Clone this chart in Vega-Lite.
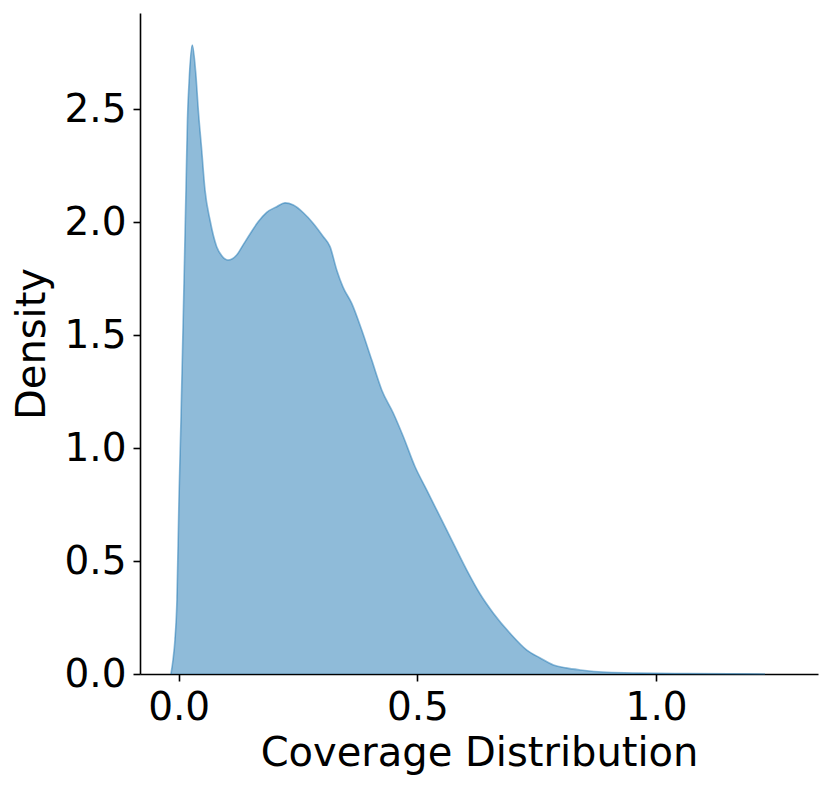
{
  "$schema": "https://vega.github.io/schema/vega-lite/v6.json",
  "width": 678,
  "height": 661,
  "autosize": {"type": "none"},
  "padding": {"left": 140, "top": 13, "right": 13, "bottom": 115},
  "background": "white",
  "config": {
    "view": {"stroke": null},
    "font": "DejaVu Sans",
    "axis": {
      "grid": false,
      "domainColor": "black",
      "domainWidth": 1.6,
      "tickColor": "black",
      "tickWidth": 1.6,
      "tickSize": 7,
      "labelFont": "DejaVu Sans",
      "labelFontSize": 39,
      "labelColor": "black",
      "labelPadding": 7,
      "titleFont": "DejaVu Sans",
      "titleFontSize": 40,
      "titleFontWeight": "normal",
      "titleColor": "black"
    }
  },
  "data": {
    "values": [
      {"x": -0.0161, "y": 0.0},
      {"x": -0.0119, "y": 0.062},
      {"x": -0.0078, "y": 0.15},
      {"x": -0.0036, "y": 0.327},
      {"x": 0.0006, "y": 0.77},
      {"x": 0.0048, "y": 1.124},
      {"x": 0.009, "y": 1.522},
      {"x": 0.0122, "y": 1.832},
      {"x": 0.0153, "y": 2.142},
      {"x": 0.0184, "y": 2.451},
      {"x": 0.0222, "y": 2.637},
      {"x": 0.0285, "y": 2.783},
      {"x": 0.0356, "y": 2.664},
      {"x": 0.0411, "y": 2.496},
      {"x": 0.0482, "y": 2.319},
      {"x": 0.0551, "y": 2.142},
      {"x": 0.0656, "y": 2.009},
      {"x": 0.0796, "y": 1.891},
      {"x": 0.0907, "y": 1.85},
      {"x": 0.1033, "y": 1.832},
      {"x": 0.1215, "y": 1.854},
      {"x": 0.1347, "y": 1.898},
      {"x": 0.1494, "y": 1.947},
      {"x": 0.1661, "y": 2.0},
      {"x": 0.1844, "y": 2.043},
      {"x": 0.2053, "y": 2.068},
      {"x": 0.2227, "y": 2.085},
      {"x": 0.2401, "y": 2.075},
      {"x": 0.2611, "y": 2.041},
      {"x": 0.282, "y": 1.994},
      {"x": 0.303, "y": 1.935},
      {"x": 0.317, "y": 1.891},
      {"x": 0.331, "y": 1.788},
      {"x": 0.3442, "y": 1.712},
      {"x": 0.3625, "y": 1.64},
      {"x": 0.3834, "y": 1.522},
      {"x": 0.4044, "y": 1.389},
      {"x": 0.4253, "y": 1.257},
      {"x": 0.4496, "y": 1.154},
      {"x": 0.4706, "y": 1.05},
      {"x": 0.4951, "y": 0.917},
      {"x": 0.5196, "y": 0.814},
      {"x": 0.5474, "y": 0.696},
      {"x": 0.5753, "y": 0.578},
      {"x": 0.6034, "y": 0.46},
      {"x": 0.6313, "y": 0.354},
      {"x": 0.6591, "y": 0.269},
      {"x": 0.6941, "y": 0.18},
      {"x": 0.7291, "y": 0.106},
      {"x": 0.757, "y": 0.071},
      {"x": 0.7848, "y": 0.04},
      {"x": 0.8115, "y": 0.027},
      {"x": 0.8408, "y": 0.018},
      {"x": 0.8967, "y": 0.0075},
      {"x": 0.9658, "y": 0.004},
      {"x": 1.064, "y": 0.002},
      {"x": 1.155, "y": 0.0008},
      {"x": 1.228, "y": 0.0}
    ]
  },
  "mark": {
    "type": "area",
    "color": "#1f77b4",
    "fillOpacity": 0.5,
    "line": {"color": "#1f77b4", "strokeWidth": 1.6, "strokeOpacity": 0.5},
    "interpolate": "monotone"
  },
  "encoding": {
    "x": {
      "field": "x",
      "type": "quantitative",
      "title": "Coverage Distribution",
      "scale": {"domain": [-0.081, 1.339], "nice": false, "zero": false},
      "axis": {"values": [0, 0.5, 1.0], "format": ".1f", "titlePadding": 6}
    },
    "y": {
      "field": "y",
      "type": "quantitative",
      "title": "Density",
      "scale": {"domain": [0, 2.925], "nice": false},
      "axis": {"values": [0, 0.5, 1.0, 1.5, 2.0, 2.5], "format": ".1f", "titlePadding": 11}
    }
  }
}
